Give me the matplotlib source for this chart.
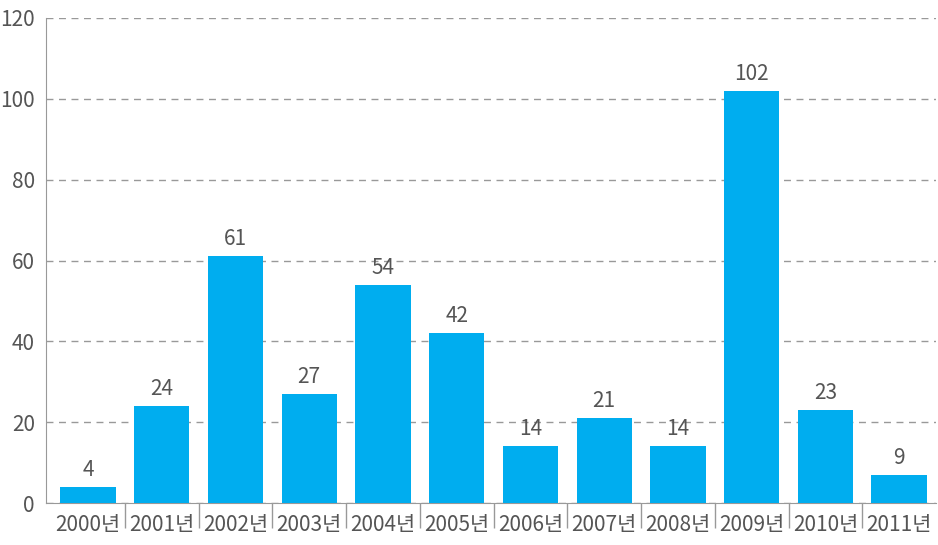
import numpy as np
import matplotlib.pyplot as plt

years = ['2000년', '2001년', '2002년', '2003년', '2004년', '2005년',
         '2006년', '2007년', '2008년', '2009년', '2010년', '2011년']
values = [4, 24, 61, 27, 54, 42, 14, 21, 14, 102, 23, 7]
labels = ['4', '24', '61', '27', '54', '42', '14', '21', '14', '102', '23', '9']

plt.rcParams['font.family'] = ['Noto Sans CJK KR', 'DejaVu Sans']

fig = plt.figure(figsize=(9.38, 5.45), dpi=100)
ax = fig.add_axes([46 / 938, 42 / 545, 890 / 938, 485 / 545])

x = np.arange(len(years))
ax.bar(x, values, width=0.75, color='#00adef', zorder=3)

for xi, v, lab in zip(x, values, labels):
    ax.text(xi, v + 1.5, lab, ha='center', va='bottom', fontsize=15,
            color='#555555', fontweight='light')

ax.set_ylim(0, 120)
ax.set_xlim(-0.57, 11.5)
ax.set_yticks(np.arange(0, 121, 20))
ax.yaxis.grid(True, linestyle=(0, (5, 4)), color='#999999', linewidth=1, zorder=0)

ax.set_xticks(x)
ax.set_xticklabels(years)
ax.set_xticks(np.arange(0.5, 11, 1), minor=True)
ax.tick_params(axis='x', which='major', length=0, pad=8, labelsize=15,
               labelcolor='#555555')
ax.tick_params(axis='x', which='minor', length=18, color='#999999', width=1)
ax.tick_params(axis='y', length=0, pad=8, labelsize=15, labelcolor='#555555')
for t in ax.get_xticklabels() + ax.get_yticklabels():
    t.set_fontweight('light')

for s in ['top', 'right']:
    ax.spines[s].set_visible(False)
for s in ['left', 'bottom']:
    ax.spines[s].set_color('#999999')

fig.savefig('out.png', dpi=100)
